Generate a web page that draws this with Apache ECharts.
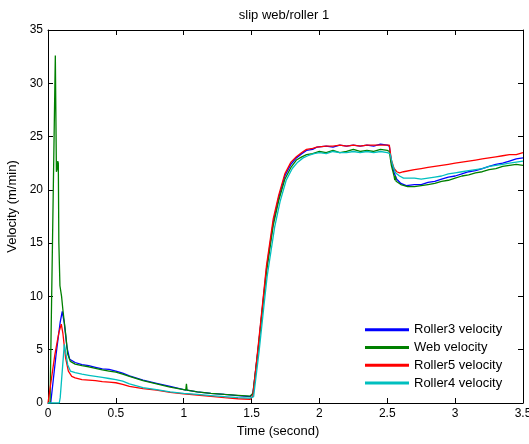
<!DOCTYPE html>
<html>
<head>
<meta charset="utf-8">
<script src="https://cdn.jsdelivr.net/npm/echarts@6/dist/echarts.min.js"></script>
<style>html,body{margin:0;padding:0;background:#fff}#c{width:529px;height:444px}</style>
</head>
<body>
<div id="c"></div>
<script>
const chartTitle = 'slip web/roller 1';
const xName = 'Time (second)';
const yName = 'Velocity (m/min)';
const seriesNames = ['Roller3 velocity', 'Web velocity', 'Roller5 velocity', 'Roller4 velocity'];
const xTicks = { min: 0, max: 3.5, interval: 0.5 };
const yTicks = { min: 0, max: 35, interval: 5 };

const timeRoller3 = [0,0.02,0.06,0.09,0.105,0.12,0.14,0.16,0.2,0.25,0.3,0.35,0.4,0.45,0.5,0.55,0.6,0.7,0.8,0.9,1.0,1.1,1.2,1.3,1.4,1.49,1.51,1.55,1.585,1.61,1.66,1.7,1.745,1.79,1.83,1.87,1.905,1.95,1.98,2.05,2.1,2.15,2.2,2.25,2.3,2.35,2.4,2.45,2.5,2.515,2.53,2.55,2.57,2.6,2.64,2.7,2.75,2.8,2.85,2.9,2.95,3.0,3.05,3.1,3.15,3.2,3.25,3.3,3.35,3.4,3.45,3.5];
const roller3 = [0,0,4.6,7.6,8.6,7.5,5.2,4.1,3.8,3.6,3.5,3.35,3.2,3.15,3.0,2.8,2.55,2.15,1.85,1.55,1.25,1.05,0.9,0.8,0.7,0.6,0.9,5.3,9.6,12.6,17.0,19.3,21.3,22.4,23.0,23.4,23.7,23.8,24.0,24.1,24.0,24.2,24.1,24.2,24.1,24.2,24.1,24.3,24.2,24.1,22.6,21.6,21.0,20.6,20.4,20.5,20.5,20.7,20.8,21.0,21.2,21.3,21.5,21.7,21.8,22.0,22.2,22.4,22.5,22.7,22.9,23.0];

const timeWeb = [0,0.015,0.054,0.062,0.068,0.072,0.076,0.08,0.088,0.1,0.11,0.118,0.13,0.145,0.165,0.2,0.25,0.3,0.35,0.4,0.45,0.5,0.55,0.6,0.7,0.8,0.9,1.0,1.015,1.02,1.025,1.1,1.2,1.3,1.4,1.49,1.51,1.55,1.585,1.61,1.66,1.7,1.745,1.79,1.83,1.87,1.905,1.95,2.0,2.05,2.1,2.15,2.2,2.25,2.3,2.35,2.4,2.45,2.5,2.515,2.53,2.55,2.555,2.56,2.565,2.6,2.65,2.7,2.75,2.8,2.85,2.9,2.95,3.0,3.05,3.1,3.15,3.2,3.25,3.3,3.35,3.4,3.45,3.5];
const web = [0,0,32.6,21.7,22.0,22.7,22.5,15.0,11.0,10.0,8.7,8.6,6.5,4.6,3.9,3.65,3.5,3.4,3.25,3.1,3.0,2.9,2.7,2.5,2.1,1.8,1.5,1.25,1.2,1.8,1.2,1.05,0.9,0.8,0.72,0.65,0.9,5.2,9.4,12.3,16.7,19.0,21.0,22.1,22.8,23.1,23.3,23.4,23.6,23.5,23.7,23.5,23.6,23.8,23.6,23.7,23.6,23.8,23.7,23.6,22.3,21.3,20.9,21.3,20.8,20.5,20.3,20.3,20.4,20.5,20.6,20.8,20.9,21.1,21.3,21.4,21.6,21.7,21.9,22.0,22.2,22.3,22.4,22.3];

const timeRoller5 = [0,0.012,0.05,0.08,0.098,0.11,0.13,0.15,0.175,0.2,0.25,0.3,0.35,0.4,0.45,0.5,0.55,0.6,0.7,0.8,0.9,1.0,1.1,1.2,1.3,1.4,1.49,1.51,1.55,1.585,1.61,1.66,1.7,1.745,1.79,1.83,1.87,1.905,1.95,1.98,2.05,2.1,2.15,2.2,2.25,2.3,2.35,2.4,2.45,2.5,2.515,2.53,2.55,2.57,2.59,2.62,2.7,2.75,2.8,2.85,2.9,2.95,3.0,3.05,3.1,3.15,3.2,3.25,3.3,3.35,3.4,3.45,3.5];
const roller5 = [0,0,4.5,6.6,7.4,6.5,4.2,3.0,2.5,2.35,2.2,2.15,2.1,2.0,1.95,1.9,1.75,1.55,1.35,1.2,1.0,0.85,0.75,0.62,0.5,0.4,0.35,0.7,5.5,9.8,12.9,17.3,19.5,21.5,22.6,23.1,23.5,23.8,23.9,24.0,24.1,24.1,24.2,24.1,24.2,24.1,24.2,24.2,24.2,24.2,24.2,22.8,22.0,21.7,21.6,21.7,21.9,22.0,22.1,22.2,22.3,22.4,22.5,22.6,22.7,22.8,22.9,23.0,23.1,23.2,23.3,23.3,23.5];

const timeRoller4 = [0,0.083,0.09,0.12,0.13,0.145,0.165,0.2,0.25,0.3,0.35,0.4,0.45,0.5,0.55,0.6,0.7,0.8,0.9,1.0,1.1,1.2,1.3,1.4,1.49,1.515,1.555,1.59,1.615,1.67,1.71,1.755,1.8,1.84,1.88,1.915,1.96,2.0,2.05,2.1,2.15,2.2,2.25,2.3,2.35,2.4,2.45,2.5,2.52,2.54,2.56,2.59,2.62,2.7,2.75,2.8,2.85,2.9,2.95,3.0,3.05,3.1,3.15,3.2,3.25,3.3,3.35,3.4,3.45,3.5];
const roller4 = [0,0,0.5,5.5,4.8,3.6,3.0,2.85,2.7,2.6,2.5,2.4,2.3,2.2,2.05,1.8,1.45,1.25,1.05,0.9,0.8,0.7,0.6,0.5,0.45,0.6,4.8,9.0,11.9,16.5,18.9,20.9,22.0,22.6,23.0,23.2,23.4,23.5,23.4,23.6,23.5,23.5,23.6,23.5,23.6,23.5,23.6,23.5,23.4,22.3,21.6,21.3,21.1,21.1,21.0,21.1,21.2,21.3,21.5,21.6,21.7,21.8,21.9,22.0,22.2,22.3,22.4,22.5,22.6,22.7];

const colors = ['#0000ff', '#008000', '#ff0000', '#00bfbf'];

const zip = (t, v) => t.map((x, i) => [x, v[i]]);
const datasets = [zip(timeRoller3, roller3), zip(timeWeb, web), zip(timeRoller5, roller5), zip(timeRoller4, roller4)];

const FONT = 'Liberation Sans';
const chart = echarts.init(document.getElementById('c'), null, { renderer: 'canvas' });
const axisLine = { show: true, onZero: false, lineStyle: { color: '#000', width: 1 } };
const tick = { show: true, inside: true, length: 5, lineStyle: { color: '#000' } };

chart.setOption({
  animation: false,
  backgroundColor: '#fff',
  title: {
    text: chartTitle, left: 279, top: 4, textAlign: 'center',
    textStyle: { fontSize: 13, fontWeight: 'normal', color: '#000', fontFamily: FONT }
  },
  legend: {
    data: seriesNames, orient: 'vertical', left: 360, top: 318,
    icon: 'rect', itemWidth: 44, itemHeight: 3, itemGap: 4,
    textStyle: { fontSize: 13, color: '#000', fontFamily: FONT, lineHeight: 13.7 }
  },
  grid: { left: 48, right: 6, top: 30, bottom: 41, containLabel: false, outerBoundsMode: 'none' },
  xAxis: [
    {
      type: 'value', position: 'bottom', min: xTicks.min, max: xTicks.max, interval: xTicks.interval,
      axisLine, axisTick: tick, splitLine: { show: false },
      axisLabel: { color: '#000', fontSize: 12, margin: 5, fontFamily: FONT },
      name: xName, nameLocation: 'middle', nameGap: 22,
      nameTextStyle: { color: '#000', fontSize: 13, fontFamily: FONT, padding: [0, 15, 0, 0] }
    },
    {
      type: 'value', position: 'top', min: xTicks.min, max: xTicks.max, interval: xTicks.interval,
      axisLine, axisTick: tick, splitLine: { show: false }, axisLabel: { show: false }
    }
  ],
  yAxis: [
    {
      type: 'value', position: 'left', min: yTicks.min, max: yTicks.max, interval: yTicks.interval,
      axisLine, axisTick: tick, splitLine: { show: false },
      axisLabel: { color: '#000', fontSize: 12, margin: 5, fontFamily: FONT },
      name: yName, nameLocation: 'middle', nameGap: 26,
      nameTextStyle: { color: '#000', fontSize: 13, fontFamily: FONT, padding: [0, 0, 0, 20] }
    },
    {
      type: 'value', position: 'right', min: yTicks.min, max: yTicks.max, interval: yTicks.interval,
      axisLine, axisTick: tick, splitLine: { show: false }, axisLabel: { show: false }
    }
  ],
  series: seriesNames.map((name, i) => ({
    name, type: 'line', data: datasets[i], showSymbol: false, symbol: 'none',
    color: colors[i], lineStyle: { color: colors[i], width: 1.3 }
  }))
});
</script>
</body>
</html>
